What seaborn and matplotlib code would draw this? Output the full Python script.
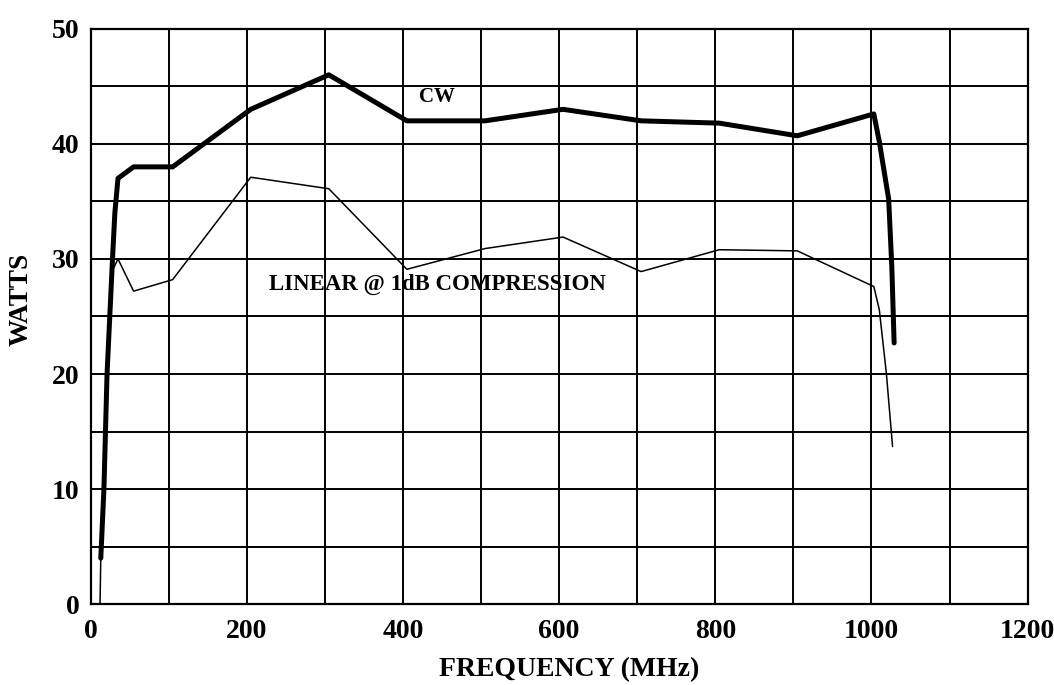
import matplotlib
matplotlib.use("Agg")
import matplotlib.pyplot as plt
from matplotlib.ticker import MultipleLocator
import seaborn as sns
import pandas as pd

# CW output power (thick curve)
cw_freq = [13, 17, 21, 28, 31, 35, 55, 105, 205, 305, 405, 505, 605, 705, 805, 905, 1003, 1010, 1022, 1026, 1029]
cw_watts = [4, 10, 20, 30, 34, 37, 38, 38, 43, 46, 42, 42, 43, 42, 41.8, 40.7, 42.6, 40.2, 35.2, 29.4, 22.7]

# Linear @ 1dB compression (thin curve)
lin_freq = [12, 13, 17, 21, 28, 35, 55, 105, 205, 305, 405, 505, 605, 705, 805, 905, 1003, 1010, 1019, 1027]
lin_watts = [0, 4, 10, 20, 29, 30, 27.2, 28.2, 37.1, 36.1, 29.1, 30.9, 31.9, 28.9, 30.8, 30.7, 27.6, 25.6, 20.1, 13.7]

x_ticks = [0, 200, 400, 600, 800, 1000, 1200]
y_ticks = [0, 10, 20, 30, 40, 50]

cw_df = pd.DataFrame({"freq": cw_freq, "watts": cw_watts})
lin_df = pd.DataFrame({"freq": lin_freq, "watts": lin_watts})

sns.set_theme(style="white")
plt.rcParams["font.family"] = ["Liberation Serif", "DejaVu Serif"]
plt.rcParams["text.color"] = "black"
plt.rcParams["axes.labelcolor"] = "black"
plt.rcParams["xtick.color"] = "black"
plt.rcParams["ytick.color"] = "black"

fig = plt.figure(figsize=(10.54, 6.85), dpi=100)
ax = fig.add_axes([0.086, 0.118, 0.889, 0.840])

ax.set_xlim(0, 1200)
ax.set_ylim(0, 50)
ax.xaxis.set_major_locator(MultipleLocator(200))
ax.xaxis.set_minor_locator(MultipleLocator(100))
ax.yaxis.set_major_locator(MultipleLocator(10))
ax.yaxis.set_minor_locator(MultipleLocator(5))
ax.set_xticks(x_ticks)
ax.set_yticks(y_ticks)
ax.grid(True, which="both", color="black", linewidth=1.4)
ax.set_axisbelow(True)

sns.lineplot(data=lin_df, x="freq", y="watts", ax=ax, color="black",
             linewidth=1.1, sort=False, estimator=None)
sns.lineplot(data=cw_df, x="freq", y="watts", ax=ax, color="black",
             linewidth=3.6, sort=False, estimator=None)

for s in ax.spines.values():
    s.set_color("black")
    s.set_linewidth(1.6)

ax.tick_params(axis="both", which="both", length=0, colors="black")
ax.tick_params(axis="x", pad=11)
ax.tick_params(axis="y", pad=8)
for lab in ax.get_xticklabels() + ax.get_yticklabels():
    lab.set_fontsize(20)
    lab.set_fontweight("bold")

ax.set_xlabel("FREQUENCY (MHz)", fontsize=20, fontweight="bold", color="black")
ax.set_ylabel("WATTS", fontsize=19.5, fontweight="bold", color="black")
ax.xaxis.label.set_va("center")
ax.yaxis.label.set_va("center")
ax.xaxis.set_label_coords(0.511, -0.114)
ax.yaxis.set_label_coords(-0.074, 0.529)

ax.text(444, 44.1, "CW", fontsize=15, fontweight="bold", ha="center", va="center")
ax.text(228, 27.8, "LINEAR @ 1dB COMPRESSION", fontsize=16.5, fontweight="bold",
        ha="left", va="center")

fig.savefig("out.png", dpi=100)
